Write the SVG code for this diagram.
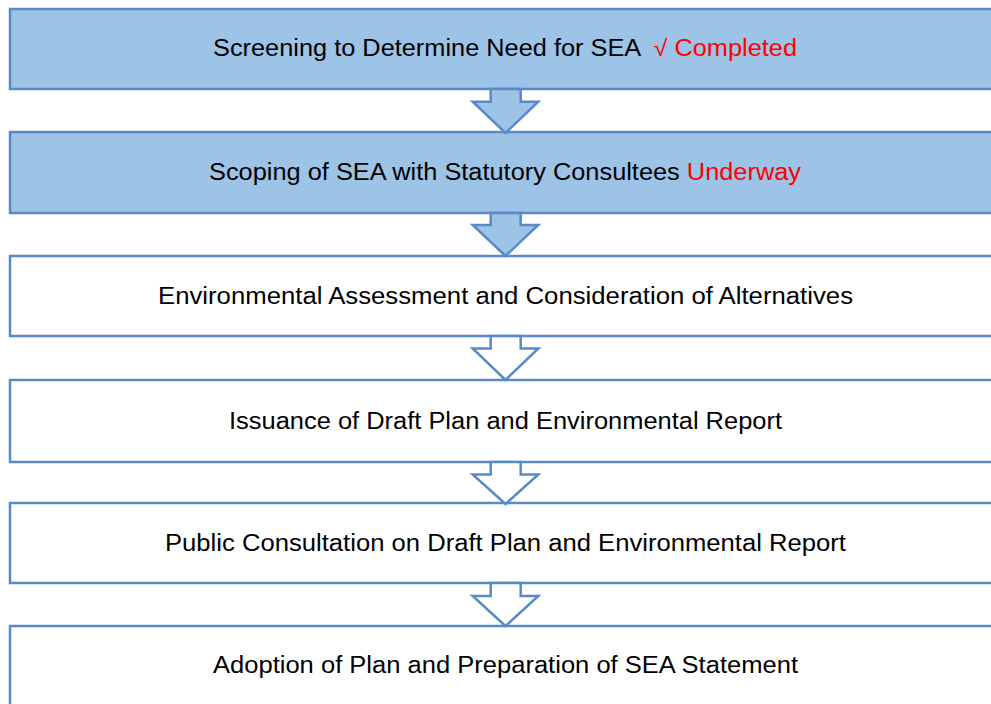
<svg xmlns="http://www.w3.org/2000/svg" width="991" height="704" viewBox="0 0 991 704">
<style>
  .box { stroke: #5a8ac6; stroke-width: 2.5; }
  .blue { fill: #9dc3e6; }
  .white { fill: #ffffff; }
  .arrow { stroke: #5a8ac6; stroke-width: 2.5; stroke-linejoin: miter; }
  .lbl { font-family: "Liberation Sans", Arial, sans-serif; font-size: 23px; fill: #000000; text-anchor: middle; }
  .red { fill: #ff0000; }
</style>
<rect x="0" y="0" width="991" height="704" fill="#ffffff"/>
<g id="node1">
  <rect class="box blue" x="10" y="9" width="995" height="80"/>
  <text class="lbl" x="505" y="56" textLength="584" lengthAdjust="spacingAndGlyphs">Screening to Determine Need for SEA <tspan class="red" dx="6">√ Completed</tspan></text>
</g>
<g id="node2">
  <rect class="box blue" x="10" y="132" width="995" height="81"/>
  <text class="lbl" x="505" y="180" textLength="592" lengthAdjust="spacingAndGlyphs">Scoping of SEA with Statutory Consultees <tspan class="red">Underway</tspan></text>
</g>
<g id="node3">
  <rect class="box white" x="10" y="256" width="995" height="80"/>
  <text class="lbl" x="505.5" y="304" textLength="695" lengthAdjust="spacingAndGlyphs">Environmental Assessment and Consideration of Alternatives</text>
</g>
<g id="node4">
  <rect class="box white" x="10" y="380" width="995" height="82"/>
  <text class="lbl" x="505.5" y="429" textLength="553" lengthAdjust="spacingAndGlyphs">Issuance of Draft Plan and Environmental Report</text>
</g>
<g id="node5">
  <rect class="box white" x="10" y="503" width="995" height="80"/>
  <text class="lbl" x="505.5" y="551" textLength="681" lengthAdjust="spacingAndGlyphs">Public Consultation on Draft Plan and Environmental Report</text>
</g>
<g id="node6">
  <rect class="box white" x="10" y="626" width="995" height="90"/>
  <text class="lbl" x="505.5" y="673" textLength="585" lengthAdjust="spacingAndGlyphs">Adoption of Plan and Preparation of SEA Statement</text>
</g>
<g id="connectors">
  <polygon class="arrow blue" points="490.7,89 520.7,89 520.7,101.7 538.3,101.7 505.5,133 472.7,101.7 490.7,101.7"/>
  <polygon class="arrow blue" points="490.7,213 520.7,213 520.7,225 538.3,225 505.5,256 472.7,225 490.7,225"/>
  <polygon class="arrow white" points="490.7,336 520.7,336 520.7,348.5 538.3,348.5 505.5,380 472.7,348.5 490.7,348.5"/>
  <polygon class="arrow white" points="490.7,462 520.7,462 520.7,474.5 538.3,474.5 505.5,504 472.7,474.5 490.7,474.5"/>
  <polygon class="arrow white" points="490.7,583 520.7,583 520.7,596 538.3,596 505.5,626 472.7,596 490.7,596"/>
</g>
</svg>
